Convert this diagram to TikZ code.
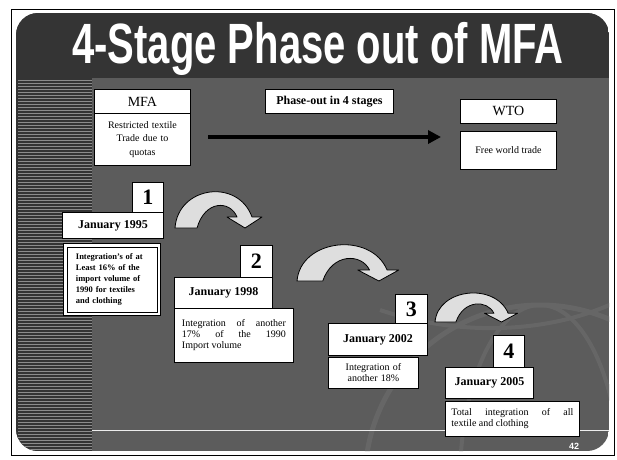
\documentclass[tikz,border=0pt]{standalone}
\usepackage{graphicx}
\usepackage{fontspec}
\setmainfont{Liberation Serif}
\newfontfamily\titlefont{Liberation Sans}
\usetikzlibrary{arrows.meta,positioning}
\definecolor{slidedark}{HTML}{343434}
\definecolor{slidegray}{HTML}{5C5C5C}
\definecolor{stripe}{HTML}{8C8C8C}
\definecolor{globe}{HTML}{666666}
\definecolor{arrowfill}{HTML}{DEDEDE}
\tikzstyle{wbox}=[draw=black, fill=white, line width=0.9pt, inner sep=0pt, anchor=north west]
\tikzstyle{datebox}=[wbox, font=\bfseries\fontsize{12}{12}\selectfont]
\tikzstyle{numbox}=[wbox, font=\bfseries\fontsize{22}{22}\selectfont]
\tikzstyle{notebox}=[wbox, font=\fontsize{10}{11}\selectfont]
\tikzstyle{curlarrow}=[draw=black, fill=arrowfill, line width=0.8pt, line join=round]
\newcommand{\stagearrow}[3]{%
\draw[curlarrow, shift={#1}, xscale=#2, yscale=#3] (0,0)
  .. controls (3,-42) and (63,-50) .. (77,-11) -- (87,-11) -- (70,0)
  -- (52,-11) -- (62,-11) .. controls (55,-28) and (30,-28) .. (22,0) -- cycle;}

\begin{document}
\begin{tikzpicture}[x=1pt,y=-1pt]
\useasboundingbox (0,0) rectangle (617,459);
\fill[white] (0,0) rectangle (617,459);
\draw[line width=1pt] (11,9) rectangle (614,455);
\begin{scope}
\clip[rounded corners=22] (16,13) rectangle (609,451);
\fill[slidegray] (16,13) rectangle (609,451);
\draw[globe, line width=5pt] (540,480) circle (175);
\draw[globe, line width=4pt] (540,480) ellipse (80 and 175);
\draw[globe, line width=4pt] (380,310) .. controls (470,340) and (560,330) .. (620,300);
\fill[slidedark] (16,13) rectangle (609,78);
\fill[slidedark] (16,78) rectangle (92,451);
\foreach \y in {80,83,...,450}
  \draw[stripe, line width=0.7pt] (18,\y) -- (92,\y);
\draw[white!85!gray, line width=0.8pt] (92,430) -- (609,430);
\end{scope}
\node[anchor=base, text=white, font=\titlefont\bfseries\fontsize{40}{40}\selectfont]
  (title) at (318,63) {\scalebox{1}[1.42]{4-Stage Phase out of MFA}};
\node[text=white, font=\titlefont\bfseries\fontsize{9}{9}\selectfont] (pg) at (574,446) {42};

\node[wbox, minimum width=96, minimum height=24, font=\fontsize{14}{14}\selectfont] (mfa) at (94,89) {MFA};
\node[wbox, minimum width=96, minimum height=52, text width=90, align=center,
  font=\fontsize{10}{13.5}\selectfont] (mfatxt) at (94,113) {Restricted textile\\Trade due to\\quotas};
\node[wbox, minimum width=128, minimum height=24, font=\bfseries\fontsize{12}{12}\selectfont] (phase) at (265,89) {Phase-out in 4 stages};
\node[wbox, minimum width=96, minimum height=24, font=\fontsize{14}{14}\selectfont] (wto) at (460,99) {WTO};
\node[wbox, minimum width=96, minimum height=38, font=\fontsize{10}{12}\selectfont] (wtotxt) at (460,131) {Free world trade};
\coordinate (from) at (208,137);
\coordinate (to) at (441,137);
\draw[line width=4pt, -{Triangle[length=13pt,width=13pt]}] (from) -- (to);

\node[numbox, minimum width=31, minimum height=30] (n1) at (132,182) {1};
\node[datebox, minimum width=101, minimum height=26] (d1) at (62,212) {January 1995};
\node[wbox, minimum width=97, minimum height=72, text width=72, align=left,
  font=\bfseries\fontsize{8.5}{11}\selectfont] (t1) at (63,243)
  {Integration's of at\\Least 16\% of the\\import volume of\\1990 for textiles\\and clothing};
\draw[line width=0.7pt] ([shift={(4,4)}]t1.north west) rectangle ([shift={(-4,-4)}]t1.south east);

\node[numbox, minimum width=32, minimum height=32] (n2) at (240,245) {2};
\node[datebox, minimum width=98, minimum height=31] (d2) at (174,277) {January 1998};
\node[notebox, minimum width=119, minimum height=54, text width=104, align=justify] (t2) at (174,308)
  {Integration of another\linebreak 17\% of the 1990\linebreak Import volume\par\vspace{6pt}};

\node[numbox, minimum width=32, minimum height=29] (n3) at (395,294) {3};
\node[datebox, minimum width=99, minimum height=32] (d3) at (328,323) {January 2002};
\node[notebox, minimum width=90, minimum height=31, text width=84, align=center] (t3) at (328,357)
  {Integration of\\another 18\%};

\node[numbox, minimum width=31, minimum height=32] (n4) at (493,335) {4};
\node[datebox, minimum width=88, minimum height=31] (d4) at (445,367) {January 2005};
\node[notebox, minimum width=134, minimum height=35, text width=122, align=justify] (t4) at (445,401)
  {Total integration of all\linebreak textile and clothing};

\stagearrow{(175,228)}{1}{1}
\stagearrow{(297,281)}{1.17}{1}
\stagearrow{(435,322)}{0.95}{0.8}
\end{tikzpicture}
\end{document}
